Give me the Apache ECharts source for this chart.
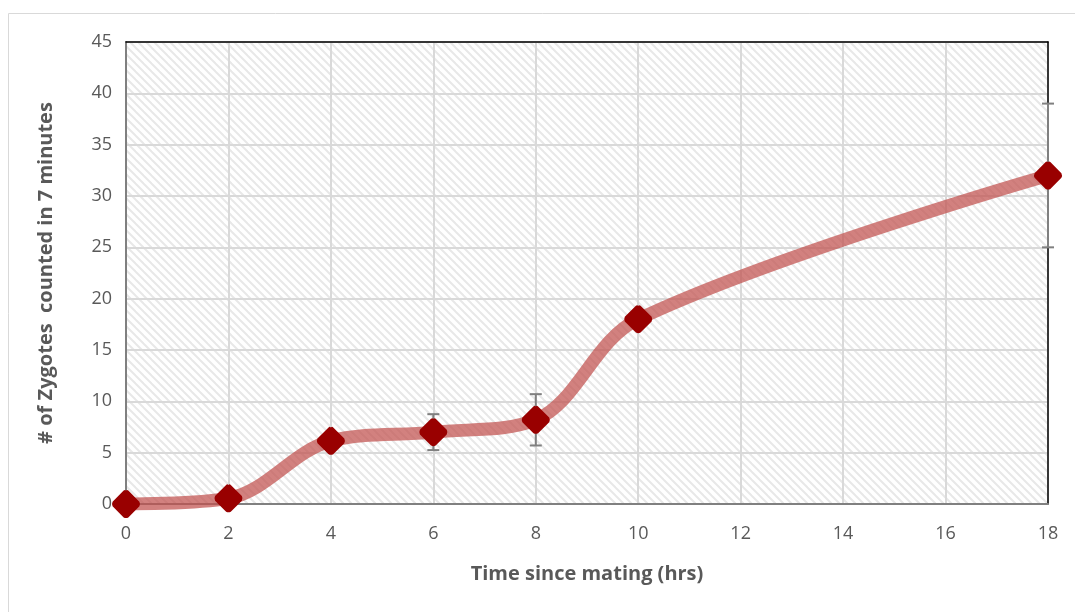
<!DOCTYPE html>
<html>
<head>
<meta charset="utf-8">
<script src="https://cdn.jsdelivr.net/npm/echarts@6/dist/echarts.min.js"></script>
<style>
  html, body { margin: 0; padding: 0; background: #fff; }
  #main { width: 1075px; height: 612px; }
</style>
</head>
<body>
<div id="main"></div>
<script>
// data
var hours = [0, 2, 4, 6, 8, 10, 18];
var zygotes = [0, 0.55, 6.15, 7.0, 8.2, 18, 32];
var errPlus = [0, 0, 0, 1.75, 2.5, 0, 7];

var FONT = '"Open Sans", "Liberation Sans", sans-serif';

// diagonal hatch tile for plot background
function hatchTile() {
    var s = 8;
    var c = document.createElement('canvas');
    c.width = s; c.height = s;
    var g = c.getContext('2d');
    g.fillStyle = '#ffffff';
    g.fillRect(0, 0, s, s);
    g.strokeStyle = '#e8e8e8';
    g.lineWidth = 2;
    for (var k = -1; k <= 1; k++) {
        g.beginPath();
        g.moveTo(-1, -1 + k * s);
        g.lineTo(s + 1, s + 1 + k * s);
        g.stroke();
    }
    return c;
}

var pts = hours.map(function (h, i) { return [h, zygotes[i]]; });
var errData = [];
hours.forEach(function (h, i) {
    if (errPlus[i] > 0) errData.push([h, zygotes[i] - errPlus[i], zygotes[i] + errPlus[i]]);
});

var labelStyle = { fontFamily: FONT, fontSize: 18, color: '#595959' };
var titleStyle = { fontFamily: FONT, fontSize: 20, fontWeight: 'bold', color: '#595959' };
var gridLine = { show: true, lineStyle: { color: '#d9d9d9', width: 2 } };

var myChart = echarts.init(document.getElementById('main'));
myChart.setOption({
    animation: false,
    graphic: [{
        type: 'rect',
        shape: { x: 8.5, y: 13.5, width: 1100, height: 640 },
        style: { fill: 'none', stroke: '#d9d9d9', lineWidth: 1 },
        silent: true, z: -10
    }],
    grid: {
        left: 126, right: 27, top: 42, bottom: 108,
        show: true,
        backgroundColor: { image: hatchTile(), repeat: 'repeat' },
        borderWidth: 0
    },
    xAxis: [{
        type: 'value', min: 0, max: 18, interval: 2,
        name: 'Time since mating (hrs)',
        nameLocation: 'middle', nameGap: 60,
        nameTextStyle: titleStyle,
        axisLine: { show: true, onZero: false, lineStyle: { color: '#808080', width: 2 } },
        axisTick: { show: false },
        axisLabel: Object.assign({ margin: 21 }, labelStyle),
        splitLine: gridLine
    }, {
        type: 'value', min: 0, max: 18, position: 'top',
        axisLine: { show: true, onZero: false, lineStyle: { color: '#000', width: 1.5 } },
        axisTick: { show: false }, axisLabel: { show: false }, splitLine: { show: false }
    }],
    yAxis: [{
        type: 'value', min: 0, max: 45, interval: 5,
        name: '# of Zygotes  counted in 7 minutes',
        nameLocation: 'middle', nameGap: 70,
        nameTextStyle: titleStyle,
        axisLine: { show: true, onZero: false, lineStyle: { color: '#808080', width: 2 } },
        axisTick: { show: false },
        axisLabel: Object.assign({ margin: 14 }, labelStyle),
        splitLine: gridLine
    }, {
        type: 'value', min: 0, max: 45, position: 'right',
        axisLine: { show: true, onZero: false, lineStyle: { color: '#000', width: 1.5 } },
        axisTick: { show: false }, axisLabel: { show: false }, splitLine: { show: false }
    }],
    series: [{
        type: 'line',
        data: pts,
        smooth: 0.35,
        showSymbol: false,
        lineStyle: { color: 'rgba(192,80,77,0.72)', width: 13 },
        z: 2
    }, {
        type: 'custom',
        data: errData,
        clip: false,
        zlevel: 1,
        renderItem: function (params, api) {
            var x = api.value(0);
            var lo = api.coord([x, api.value(1)]);
            var hi = api.coord([x, api.value(2)]);
            var cap = 6;
            var st = { stroke: '#808080', lineWidth: 2 };
            return {
                type: 'group',
                children: [
                    { type: 'line', shape: { x1: lo[0], y1: lo[1], x2: hi[0], y2: hi[1] }, style: st },
                    { type: 'line', shape: { x1: lo[0] - cap, y1: lo[1], x2: lo[0] + cap, y2: lo[1] }, style: st },
                    { type: 'line', shape: { x1: hi[0] - cap, y1: hi[1], x2: hi[0] + cap, y2: hi[1] }, style: st }
                ]
            };
        },
        z: 10
    }, {
        type: 'scatter',
        data: pts,
        zlevel: 1,
        symbol: 'path://M50,4 Q54,0 58,4 L96,42 Q100,50 96,58 L58,96 Q50,100 42,96 L4,58 Q0,50 4,42 L42,4 Q46,0 50,4 Z',
        symbolSize: 28,
        itemStyle: { color: '#990000', opacity: 1 },
        z: 11
    }]
});
</script>
</body>
</html>
